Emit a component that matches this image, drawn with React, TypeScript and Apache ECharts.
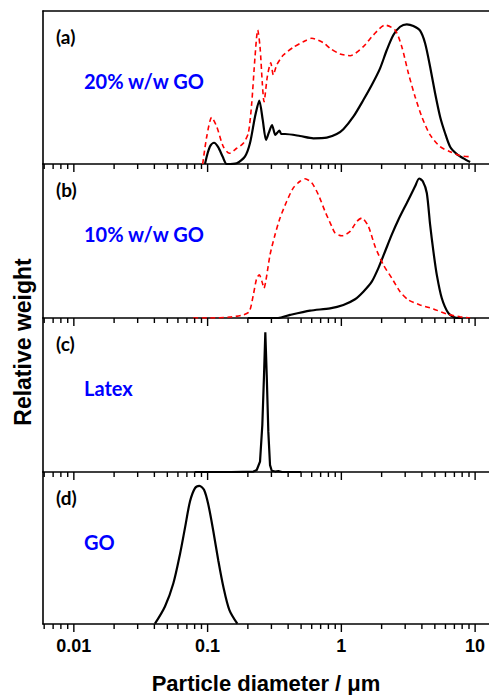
import React, { useEffect, useRef } from "react";
import * as echarts from "echarts";

// ---- data (diameter in µm, relative weight 0-100) ----
const aBlackD = [0.0956, 0.1, 0.105, 0.1117, 0.12, 0.13, 0.139, 0.165, 0.19, 0.2075, 0.2262, 0.2435, 0.2583, 0.2734, 0.2864, 0.3031, 0.3208, 0.3321, 0.3438, 0.3559, 0.3793, 0.4911, 0.6173, 0.7776, 0.9239, 1.035, 1.229, 1.46, 1.688, 1.947, 2.186, 2.448, 2.748, 3.085, 3.456, 3.878, 4.227, 4.608, 5.022, 5.472, 5.965, 6.501, 7.298, 8.176, 9.176];
const aBlackV = [0, 7, 12, 13.9, 11, 4.5, 0, 0.5, 4.8, 13.7, 30.9, 41.4, 28.8, 15.7, 20.3, 25.5, 19.0, 20.5, 21.8, 19.6, 19.6, 18.3, 16.8, 17.2, 19.6, 22.7, 30.9, 41.8, 51.6, 62.5, 74.5, 84.3, 89.7, 91.3, 90.2, 87.1, 78.9, 63.6, 46.2, 30.9, 20.1, 11.3, 6.5, 3.7, 1.3];

const aRedD = [0.0919, 0.0985, 0.1073, 0.117, 0.1311, 0.1453, 0.1651, 0.1849, 0.2015, 0.2137, 0.2262, 0.2369, 0.2465, 0.2565, 0.2641, 0.2796, 0.2965, 0.31, 0.3286, 0.3683, 0.4375, 0.5196, 0.6006, 0.7333, 0.8231, 0.9779, 1.162, 1.46, 1.735, 2.122, 2.521, 2.83, 3.171, 3.558, 3.994, 4.608, 5.472, 6.501, 7.724, 9.176];
const aRedV = [0, 17.8, 30.5, 24.4, 11.3, 7.0, 10.3, 13.5, 20.1, 39.7, 70.1, 87.6, 76.7, 52.7, 40.7, 57.1, 66.2, 58.2, 64.7, 71.2, 76.3, 79.9, 82.2, 79.3, 75.6, 71.9, 70.8, 76.7, 84.3, 90.8, 87.6, 76.7, 59.3, 44.0, 30.9, 19.0, 11.3, 8.0, 5.4, 4.8];

const bRedD = [0.0782, 0.1042, 0.1471, 0.1849, 0.205, 0.2197, 0.233, 0.2435, 0.2583, 0.2641, 0.2734, 0.2929, 0.3192, 0.3479, 0.3905, 0.4375, 0.4911, 0.535, 0.6006, 0.6729, 0.7553, 0.8475, 0.8973, 1.007, 1.162, 1.304, 1.421, 1.592, 1.787, 2.062, 2.382, 2.748, 3.171, 3.878, 4.877, 6.142, 7.724, 9.176];
const bRedV = [0, 0, 0.6, 2.0, 4.1, 15.0, 25.9, 28.0, 22.0, 19.3, 24.8, 41.0, 54.1, 64.9, 75.8, 84.5, 88.8, 90.4, 87.8, 80.1, 69.2, 59.5, 55.2, 53.4, 56.2, 62.7, 64.9, 59.5, 46.4, 34.5, 25.9, 17.1, 11.7, 8.5, 5.9, 2.6, 0.8, 0];

const bBlackD = [0.2, 0.3362, 0.4133, 0.5833, 0.8231, 1.035, 1.266, 1.46, 1.688, 1.891, 2.122, 2.382, 2.669, 3.085, 3.558, 3.813, 4.063, 4.353, 4.608, 4.877, 5.171, 5.636, 6.314, 7.086, 8.0];
const bBlackV = [0, 0, 2.0, 4.8, 6.3, 8.5, 12.2, 17.1, 23.6, 32.4, 43.2, 54.1, 63.8, 74.7, 85.5, 90.6, 88.8, 81.2, 60.6, 43.2, 28.0, 12.8, 3.1, 0.2, 0];

const cD = [0.08, 0.15, 0.22, 0.233, 0.2465, 0.2565, 0.2641, 0.2701, 0.2767, 0.2844, 0.2929, 0.3016, 0.32, 0.3379, 0.36, 0.5];
const cV = [0, 0, 0.3, 1.3, 6.7, 30.5, 63, 90.7, 63, 26.2, 4.5, 0.8, 0.3, 0.6, 0, 0];

const dD = [0.0404, 0.048, 0.0554, 0.0622, 0.0678, 0.0739, 0.0805, 0.0867, 0.094, 0.1012, 0.1103, 0.1202, 0.1311, 0.1453, 0.1668];
const dV = [0.2, 11.5, 26.6, 46.1, 63.4, 80.7, 89.4, 90.9, 88.3, 78.6, 61.2, 41.8, 24.5, 9.3, 0.2];

const panelTags = ["(a)", "(b)", "(c)", "(d)"];
const panelNames = ["20% w/w GO", "10% w/w GO", "Latex", "GO"];

const tickLabelValues = [0.01, 0.1, 1, 10];
const tickLabels = ["0.01", "0.1", "1", "10"];
const decadeBases = [0.001, 0.01, 0.1, 1, 10];
const minorMultipliers = [2, 3, 4, 5, 6, 7, 8, 9];

const X_MIN = 0.00588;
const X_MAX = 12.7;

const zip = (d: number[], v: number[]) => d.map((x, i) => [x, v[i]]);

export default function App() {
  const ref = useRef<HTMLDivElement>(null);

  useEffect(() => {
    if (!ref.current) return;
    const chart = echarts.init(ref.current, undefined, { renderer: "svg" });

    const tickData: number[][] = [];
    tickLabelValues.forEach((v) => tickData.push([v, 1]));
    decadeBases.forEach((b) =>
      minorMultipliers.forEach((m) => {
        const v = +(b * m).toPrecision(6);
        if (v >= X_MIN && v <= X_MAX) tickData.push([v, 0]);
      })
    );

    const tops = [11, 164, 318, 472];
    const heights = [153, 154, 154, 154];
    const LEFT = 43;

    const grids = tops.map((t, i) => ({ left: LEFT, right: 0, top: t, height: heights[i] }));

    const arial = '"Liberation Sans", Arial, sans-serif';
    const calib = 'Lato, "Open Sans", sans-serif';

    const xAxes: any[] = tops.map((_, i) => ({
      type: "log",
      logBase: 10,
      gridIndex: i,
      min: X_MIN,
      max: X_MAX,
      axisLine: { show: true, onZero: false, lineStyle: { color: "#000", width: 1.6 } },
      axisTick: { show: false },
      minorTick: { show: false },
      splitLine: { show: false },
      axisLabel:
        i === 3
          ? {
              show: true,
              customValues: tickLabelValues,
              formatter: (v: number) => {
                let best = 0;
                tickLabelValues.forEach((t, k) => {
                  if (Math.abs(Math.log10(t) - Math.log10(v)) < Math.abs(Math.log10(tickLabelValues[best]) - Math.log10(v))) best = k;
                });
                return tickLabels[best];
              },
              fontFamily: arial,
              fontWeight: "bold",
              fontSize: 18,
              color: "#000",
              margin: 13,
            }
          : { show: false },
      name: i === 3 ? "Particle diameter / μm" : "",
      nameLocation: "middle",
      nameGap: 48,
      nameTextStyle: { fontFamily: arial, fontWeight: "bold", fontSize: 22, color: "#000" },
    }));
    // top frame line of panel (a)
    xAxes.push({
      type: "log",
      logBase: 10,
      gridIndex: 0,
      position: "top",
      min: X_MIN,
      max: X_MAX,
      axisLine: { show: true, onZero: false, lineStyle: { color: "#000", width: 1.6 } },
      axisTick: { show: false },
      axisLabel: { show: false },
      splitLine: { show: false },
    });

    const yAxes = tops.map((_, i) => ({
      type: "value",
      gridIndex: i,
      min: 0,
      max: 100,
      axisLine: { show: true, onZero: false, lineStyle: { color: "#000", width: 1.6 } },
      axisTick: { show: false },
      axisLabel: { show: false },
      splitLine: { show: false },
    }));

    const black = (i: number, d: number[], v: number[], smooth: number | boolean) => ({
      type: "line",
      xAxisIndex: i,
      yAxisIndex: i,
      data: zip(d, v),
      showSymbol: false,
      smooth,
      lineStyle: { color: "#000", width: 2.2 },
      z: 3,
    });
    const red = (i: number, d: number[], v: number[]) => ({
      type: "line",
      xAxisIndex: i,
      yAxisIndex: i,
      data: zip(d, v),
      showSymbol: false,
      smooth: 0.25,
      lineStyle: { color: "#ff0000", width: 1.6, type: [5, 3.5] },
      z: 4,
    });
    const ticks = (i: number) => ({
      type: "custom",
      xAxisIndex: i,
      yAxisIndex: i,
      clip: false,
      silent: true,
      data: tickData,
      encode: { x: 0 },
      renderItem: (params: any, api: any) => {
        const p = api.coord([api.value(0), 0]);
        const len = api.value(1) ? 8 : 5;
        return {
          type: "line",
          shape: { x1: p[0], y1: p[1], x2: p[0], y2: p[1] + len },
          style: { stroke: "#000", lineWidth: 1.4 },
        };
      },
      z: 5,
    });

    const graphics: any[] = [];
    tops.forEach((t, i) => {
      graphics.push({
        type: "text",
        x: 56,
        y: t + 25,
        style: { text: panelTags[i], font: `bold 19px ${calib}`, fill: "#000", textVerticalAlign: "middle" },
      });
      graphics.push({
        type: "text",
        x: 84,
        y: t + 69.5,
        style: { text: panelNames[i], font: `bold 20px ${calib}`, fill: "#0000ff", textVerticalAlign: "middle" },
      });
    });
    graphics.push({
      type: "text",
      x: 23,
      y: 342,
      rotation: Math.PI / 2,
      style: {
        text: "Relative weight",
        font: `bold 23px ${arial}`,
        fill: "#000",
        textAlign: "center",
        textVerticalAlign: "middle",
      },
    });

    chart.setOption({
      animation: false,
      backgroundColor: "#fff",
      grid: grids,
      xAxis: xAxes,
      yAxis: yAxes,
      graphic: graphics,
      series: [
        black(0, aBlackD, aBlackV, 0.25),
        red(0, aRedD, aRedV),
        red(1, bRedD, bRedV),
        black(1, bBlackD, bBlackV, 0.25),
        black(2, cD, cV, false),
        black(3, dD, dV, 0.3),
        ticks(0),
        ticks(1),
        ticks(2),
        ticks(3),
      ],
    });

    return () => chart.dispose();
  }, []);

  return (
    <div
      ref={ref}
      style={{ position: "fixed", left: 0, top: 0, width: 489, height: 695, background: "#fff" }}
    />
  );
}
